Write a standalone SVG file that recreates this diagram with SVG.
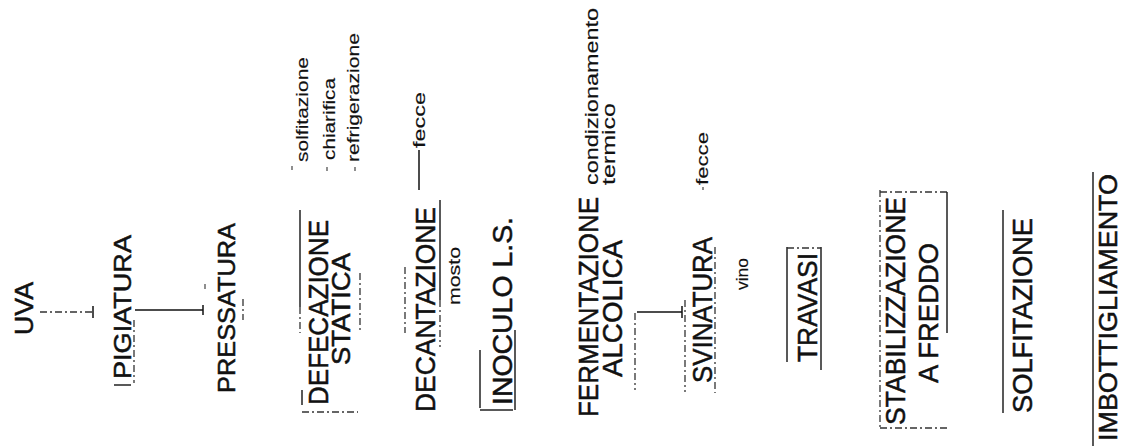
<svg xmlns="http://www.w3.org/2000/svg" width="1121" height="446" viewBox="0 0 1121 446">
<style>
.t{font-family:"Liberation Sans",Arial,sans-serif;fill:#111;}
.b{font-size:28px;stroke:#111;stroke-width:0.5;}
.s{font-size:17px;stroke:#111;stroke-width:0.15;}
.e{stroke:#222;stroke-width:1.5;fill:none;}
.d{stroke:#333;stroke-width:1.3;fill:none;stroke-dasharray:7 3 2 3;}
.c{stroke:#111;stroke-width:1.5;fill:none;}
.k{stroke:#444;stroke-width:1.2;fill:none;}
</style>
<rect width="1121" height="446" fill="#fff"/>
<g id="uva">
<text class="t b" style="font-size:25px" transform="translate(33,335) rotate(-90)" textLength="53" lengthAdjust="spacingAndGlyphs">UVA</text>
</g>
<g id="pigiatura">
<text class="t b" style="font-size:24px" transform="translate(131,379) rotate(-90)" textLength="144" lengthAdjust="spacingAndGlyphs">PIGIATURA</text>
<line class="e" x1="114" y1="385" x2="131" y2="385"/>
<line class="d" x1="134" y1="320" x2="134" y2="383"/>
</g>
<g id="pressatura">
<text class="t b" style="font-size:24px" transform="translate(235,393) rotate(-90)" textLength="170" lengthAdjust="spacingAndGlyphs">PRESSATURA</text>
<line class="d" x1="243" y1="299" x2="243" y2="320"/>
<line class="k" x1="205" y1="284" x2="205" y2="289"/>
</g>
<g id="defecazione">
<text class="t b" transform="translate(328,405) rotate(-90)" textLength="185" lengthAdjust="spacingAndGlyphs">DEFECAZIONE</text>
<text class="t b" style="font-size:26px" transform="translate(350,365) rotate(-90)" textLength="112" lengthAdjust="spacingAndGlyphs">STATICA</text>
<line class="e" x1="300" y1="210" x2="300" y2="307"/>
<line class="d" x1="300" y1="307" x2="300" y2="333"/>
<line class="e" x1="302" y1="390" x2="302" y2="405"/>
<line class="d" x1="302" y1="412" x2="358" y2="412"/>
<line class="d" x1="360" y1="273" x2="360" y2="333"/>
</g>
<g id="note-defecazione">
<text class="t s" transform="translate(308,162) rotate(-90)" textLength="105" lengthAdjust="spacingAndGlyphs">solfitazione</text>
<text class="t s" transform="translate(335,160) rotate(-90)" textLength="82" lengthAdjust="spacingAndGlyphs">chiarifica</text>
<text class="t s" transform="translate(359,162) rotate(-90)" textLength="129" lengthAdjust="spacingAndGlyphs">refrigerazione</text>
<line class="k" x1="292" y1="166" x2="292" y2="170"/>
<line class="k" x1="327" y1="167" x2="327" y2="171"/>
<line class="k" x1="355" y1="167" x2="355" y2="171"/>
</g>
<g id="decantazione">
<text class="t b" transform="translate(435,412) rotate(-90)" textLength="205" lengthAdjust="spacingAndGlyphs">DECANTAZIONE</text>
<line class="e" x1="440" y1="200" x2="440" y2="300"/>
<line class="d" x1="440" y1="300" x2="440" y2="347"/>
<line class="d" x1="405" y1="267" x2="405" y2="333"/>
</g>
<g id="fecce1">
<text class="t s" transform="translate(425,148) rotate(-90)" textLength="56" lengthAdjust="spacingAndGlyphs">fecce</text>
</g>
<g id="mosto">
<text class="t s" transform="translate(460,305) rotate(-90)" textLength="58" lengthAdjust="spacingAndGlyphs">mosto</text>
</g>
<g id="inoculo">
<text class="t b" transform="translate(512,405) rotate(-90)" textLength="188" lengthAdjust="spacingAndGlyphs">INOCULO L.S.</text>
<line class="e" x1="480" y1="350" x2="480" y2="408"/>
<line class="e" x1="480" y1="410" x2="513" y2="410"/>
<line class="e" x1="515" y1="330" x2="515" y2="410"/>
</g>
<g id="fermentazione">
<text class="t b" style="font-size:27px" transform="translate(598,417) rotate(-90)" textLength="220" lengthAdjust="spacingAndGlyphs">FERMENTAZIONE</text>
<text class="t b" style="font-size:27px" transform="translate(622,377) rotate(-90)" textLength="137" lengthAdjust="spacingAndGlyphs">ALCOLICA</text>
<line class="d" x1="635" y1="313" x2="635" y2="390"/>
</g>
<g id="condizionamento">
<text class="t s" style="font-size:18px" transform="translate(598,185) rotate(-90)" textLength="177" lengthAdjust="spacingAndGlyphs">condizionamento</text>
<text class="t s" style="font-size:18px" transform="translate(615,185) rotate(-90)" textLength="82" lengthAdjust="spacingAndGlyphs">termico</text>
</g>
<g id="svinatura">
<text class="t b" transform="translate(712,383) rotate(-90)" textLength="146" lengthAdjust="spacingAndGlyphs">SVINATURA</text>
<line class="d" x1="685" y1="300" x2="685" y2="392"/>
<line class="d" x1="715" y1="247" x2="715" y2="393"/>
</g>
<g id="fecce2">
<text class="t s" transform="translate(708,185) rotate(-90)" textLength="53" lengthAdjust="spacingAndGlyphs">fecce</text>
<line class="k" x1="703" y1="187" x2="703" y2="190"/>
</g>
<g id="vino">
<text class="t s" transform="translate(748,290) rotate(-90)" textLength="32" lengthAdjust="spacingAndGlyphs">vino</text>
</g>
<g id="travasi">
<text class="t b" transform="translate(817,362) rotate(-90)" textLength="109" lengthAdjust="spacingAndGlyphs">TRAVASI</text>
<line class="e" x1="787" y1="247" x2="787" y2="362"/>
<line class="e" x1="821" y1="247" x2="821" y2="370"/>
<line class="d" x1="787" y1="248" x2="821" y2="248"/>
</g>
<g id="stabilizzazione">
<text class="t b" transform="translate(905,425) rotate(-90)" textLength="228" lengthAdjust="spacingAndGlyphs">STABILIZZAZIONE</text>
<text class="t b" transform="translate(938,383) rotate(-90)" textLength="140" lengthAdjust="spacingAndGlyphs">A FREDDO</text>
<line class="d" x1="880" y1="190" x2="880" y2="428"/>
<line class="d" x1="880" y1="192" x2="947" y2="192"/>
<line class="e" x1="947" y1="192" x2="947" y2="333"/>
<line class="d" x1="880" y1="428" x2="947" y2="428"/>
</g>
<g id="solfitazione">
<text class="t b" transform="translate(1032,413) rotate(-90)" textLength="195" lengthAdjust="spacingAndGlyphs">SOLFITAZIONE</text>
<line class="e" x1="1003" y1="210" x2="1003" y2="413"/>
</g>
<g id="imbottigliamento">
<text class="t b" style="font-size:26px" transform="translate(1117,441) rotate(-90)" textLength="267" lengthAdjust="spacingAndGlyphs">IMBOTTIGLIAMENTO</text>
<line class="e" x1="1093" y1="172" x2="1093" y2="446"/>
</g>
<g id="connectors">
<line class="d" x1="40" y1="312" x2="93" y2="312"/>
<line class="c" x1="93" y1="306" x2="93" y2="318"/>
<line class="c" x1="135" y1="310" x2="203" y2="310"/>
<line class="c" x1="203" y1="305" x2="203" y2="315"/>
<line class="c" x1="419" y1="150" x2="419" y2="190"/>
<line class="c" x1="637" y1="312" x2="682" y2="312"/>
<line class="c" x1="682" y1="306" x2="682" y2="318"/>
</g>
</svg>
